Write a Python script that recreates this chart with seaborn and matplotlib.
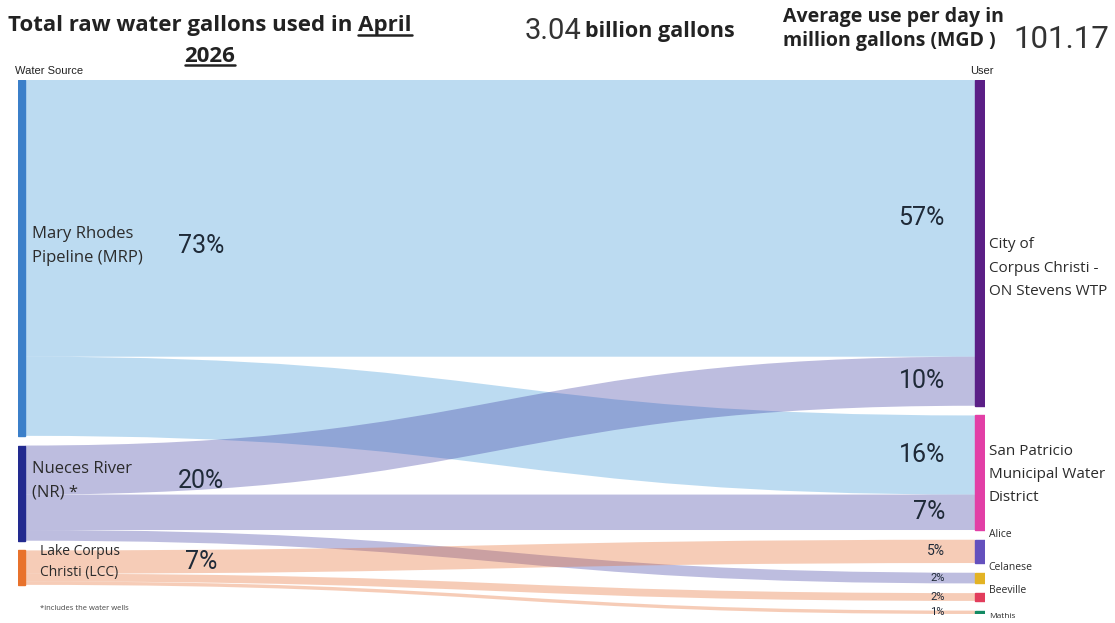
import matplotlib
matplotlib.use("Agg")
import matplotlib.pyplot as plt
from matplotlib.path import Path
from matplotlib.patches import PathPatch, Rectangle
from matplotlib.lines import Line2D
import seaborn as sns

# ---- data ----
sources = ["Mary Rhodes\nPipeline (MRP)", "Nueces River\n(NR) *", "Lake Corpus\nChristi (LCC)"]
users = ["City of\nCorpus Christi -\nON Stevens WTP", "San Patricio\nMunicipal Water\nDistrict",
         "Alice", "Celanese", "Beeville", "Mathis"]
flow_src = [0, 0, 1, 1, 1, 2, 2, 2]
flow_dst = [0, 1, 0, 1, 3, 2, 4, 5]
flow_pct = [57.0, 16.3, 10.1, 7.3, 2.2, 4.8, 1.6, 0.7]
source_colors = ["#3b7fc9", "#222a8f", "#e8722c"]
flow_colors = ["#3494d7", "#3737a0", "#e56727"]
user_colors = ["#5b1f86", "#e23fa6", "#6450bd", "#e3b324", "#e23d5c", "#138a63"]
total_billion = "3.04"
avg_mgd = "101.17"

sns.set_theme(style="white")
plt.rcParams["font.family"] = ["Open Sans", "DejaVu Sans"]

W, H = 1115, 623
fig = plt.figure(figsize=(W / 100, H / 100), dpi=100)
fig.patch.set_facecolor("white")

GAP = 2.0
NW_L, NW_R = 7 / 967, 10 / 967

src_tot = [sum(v for s, v in zip(flow_src, flow_pct) if s == i) for i in range(len(sources))]
dst_tot = [sum(v for d, v in zip(flow_dst, flow_pct) if d == i) for i in range(len(users))]

def stack(tots):
    tops, y = [], 0.0
    for t in tots:
        tops.append(y)
        y += t + GAP
    return tops, y - GAP

src_top, left_h = stack(src_tot)
dst_top, right_h = stack(dst_tot)

ax = fig.add_axes([18 / W, 1 - 614 / H, 967 / W, 534 / H])
ax.set_xlim(0, 1)
ax.set_ylim(right_h, 0)
ax.axis("off")

# flows: stacked by list order at the source, by (dst, src) at the target
s_off = list(src_top)
d_off = list(dst_top)
d_pos = {}
for i in sorted(range(len(flow_pct)), key=lambda k: (flow_dst[k], flow_src[k])):
    d_pos[i] = d_off[flow_dst[i]]
    d_off[flow_dst[i]] += flow_pct[i]

x0, x1 = NW_L, 1 - NW_R
xm = (x0 + x1) / 2
for i, v in enumerate(flow_pct):
    s, d = flow_src[i], flow_dst[i]
    ya = s_off[s]
    s_off[s] += v
    yb = d_pos[i]
    verts = [(x0, ya), (xm, ya), (xm, yb), (x1, yb), (x1, yb + v),
             (xm, yb + v), (xm, ya + v), (x0, ya + v), (x0, ya)]
    codes = [Path.MOVETO, Path.CURVE4, Path.CURVE4, Path.CURVE4, Path.LINETO,
             Path.CURVE4, Path.CURVE4, Path.CURVE4, Path.CLOSEPOLY]
    ax.add_patch(PathPatch(Path(verts, codes), facecolor=flow_colors[s],
                           edgecolor="none", alpha=0.33, zorder=1))
    fs = 18 if v >= 6 else (10 if v >= 4 else 8)
    ax.text(x1 - 0.031, yb + v / 2, f"{v:.0f}%", ha="right", va="center",
            fontsize=fs, color="#1f2a38", family=["Roboto", "DejaVu Sans"], zorder=3)

# nodes
src_dy = [-2.5, -2.5, -1.2]
src_dx = [0.0145, 0.0145, 0.0225]
for i, name in enumerate(sources):
    ax.add_patch(Rectangle((0, src_top[i]), NW_L, src_tot[i], color=source_colors[i], zorder=2))
    cy = src_top[i] + src_tot[i] / 2
    ax.text(src_dx[i], cy + src_dy[i], name, ha="left", va="center",
            fontsize=12 if i < 2 else 10, linespacing=1.65 if i < 2 else 1.5,
            color="#2b2b2b", zorder=3)
    ax.text(0.189, cy + src_dy[i], f"{src_tot[i]:.0f}%", ha="center", va="center", fontsize=18,
            color="#1f2a38", family=["Roboto", "DejaVu Sans"], zorder=3)

label_dy = [5.2, 0.4, -3.5, -2.1, -1.4, 0.8]
label_fs = [11, 11, 7.5, 7.5, 7.5, 6]
for i, name in enumerate(users):
    ax.add_patch(Rectangle((1 - NW_R, dst_top[i]), NW_R, dst_tot[i], color=user_colors[i], zorder=2))
    ax.text(1.004, dst_top[i] + dst_tot[i] / 2 + label_dy[i], name, ha="left", va="center",
            fontsize=label_fs[i], linespacing=1.75, color="#2b2b2b", clip_on=False)

# headers
fig.text(15 / W, 1 - 71 / H, "Water Source", fontsize=8, family="Liberation Sans",
         color="#222222", va="center", ha="left")
fig.text(982 / W, 1 - 71 / H, "User", fontsize=8, family="Liberation Sans",
         color="#222222", va="center", ha="center")
fig.text(40 / W, 1 - 609 / H, "*includes the water wells", fontsize=5.5, color="#444444",
         va="center", ha="left")

# title with underlined month
r = fig.canvas.get_renderer()
tkw = dict(fontsize=16, fontweight="bold", color="#222222", ha="center", va="center")
t1 = fig.text(210 / W, 1 - 26 / H, "Total raw water gallons used in April", **tkw)
t2 = fig.text(210 / W, 1 - 56 / H, "2026", **tkw)
tmp = fig.text(0, 0, "April", **tkw)
wa = tmp.get_window_extent(r).width
tmp.remove()
b1 = t1.get_window_extent(r)
b2 = t2.get_window_extent(r)
for xa, xb, yy in [(b1.x1 - wa, b1.x1, b1.y0 + 2), (b2.x0, b2.x1, b2.y0 + 2)]:
    fig.add_artist(Line2D([xa / W, xb / W], [yy / H, yy / H], transform=fig.transFigure,
                          color="#222222", lw=1.8))

fig.text(525 / W, 1 - 31 / H, total_billion, fontsize=21, color="#333333",
         family=["Roboto", "DejaVu Sans"], ha="left", va="center")
fig.text(585 / W, 1 - 31 / H, "billion gallons", fontsize=15.5, fontweight="bold",
         color="#222222", ha="left", va="center")
fig.text(783 / W, 1 - 29 / H, "Average use per day in\nmillion gallons (MGD )", fontsize=14,
         fontweight="bold", color="#222222", ha="left", va="center", linespacing=1.3)
fig.text(1013 / W, 1 - 40 / H, avg_mgd, fontsize=22.5, color="#333333",
         family=["Roboto", "DejaVu Sans"], ha="left", va="center")

fig.savefig("out.png", dpi=100, facecolor="white")
